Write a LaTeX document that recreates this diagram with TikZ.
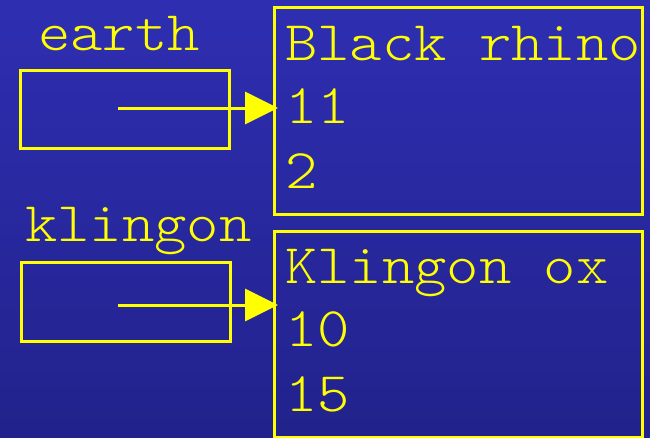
\documentclass[tikz,border=0pt]{standalone}
\usepackage{fontspec}
\newfontfamily\cour[FakeStretch=1.1]{Latin Modern Mono Light}
\usetikzlibrary{arrows.meta}
\definecolor{bgtop}{RGB}{46,46,178}
\definecolor{bgbot}{RGB}{34,34,140}
\definecolor{ylw}{RGB}{255,255,0}
\tikzset{
  box/.style={draw=ylw, line width=3pt, anchor=north west, inner sep=0pt},
  lbl/.style={text=ylw, font=\cour\fontsize{56}{64}\selectfont, anchor=base west, inner sep=0pt},
  ptr/.style={draw=ylw, line width=3pt, -{Triangle[length=33pt,width=32pt]}, shorten >=-5pt}
}
\begin{document}
\begin{tikzpicture}[x=1pt,y=-1pt]
\useasboundingbox (0,0) rectangle (650,437);
\shade[top color=bgtop, bottom color=bgbot] (0,0) rectangle (650,437);
% left variable boxes
\node[box, minimum width=209pt, minimum height=78pt] (ebox) at (19,69) {};
\node[box, minimum width=209pt, minimum height=79pt] (kbox) at (20,261) {};
% right object boxes
\node[box, minimum width=368pt, minimum height=207pt] (rbox) at (273,6) {};
\node[box, minimum width=368pt, minimum height=206pt] (obox) at (273,230) {};
% labels
\node[lbl] (earth) at (38,50) {earth};
\node[lbl] (klingon) at (25,241) {klingon};
\node[lbl] (r1) at (285,60) {Black rhino};
\node[lbl] (r2) at (285,123) {11};
\node[lbl] (r3) at (285,188) {2};
\node[lbl] (o1) at (285,283) {Klingon ox};
\node[lbl] (o2) at (285,346) {10};
\node[lbl] (o3) at (285,411) {15};
% pointers
\coordinate (es) at (118,108);
\coordinate (ks) at (118,305);
\draw[ptr] (es) -- (es -| rbox.west);
\draw[ptr] (ks) -- (ks -| obox.west);
\end{tikzpicture}
\end{document}
